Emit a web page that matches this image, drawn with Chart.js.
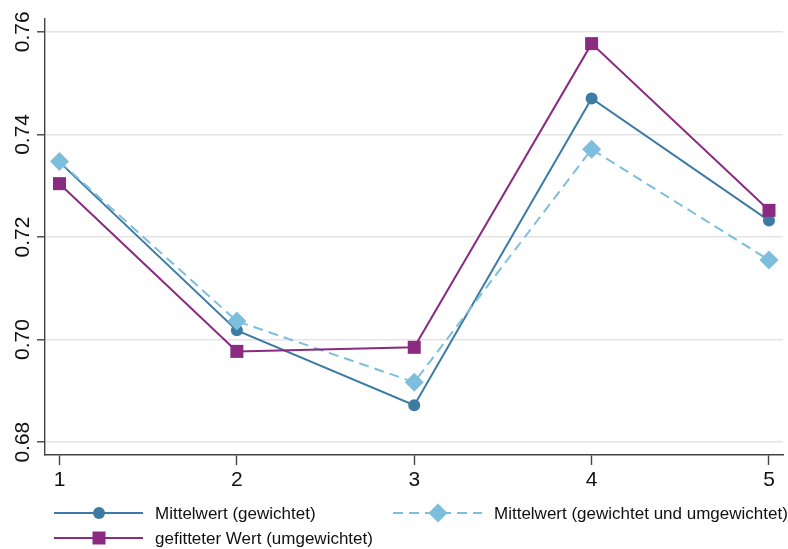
<!DOCTYPE html>
<html>
<head>
<meta charset="utf-8">
<script src="https://cdn.jsdelivr.net/npm/chart.js@4.4.1/dist/chart.umd.min.js"></script>
<style>
  html, body { margin: 0; padding: 0; background: #fff; }
</style>
</head>
<body>
<canvas id="chart" width="788" height="549"></canvas>
<script>
// values
const categories = [1, 2, 3, 4, 5];
const yTicks = [0.68, 0.70, 0.72, 0.74, 0.76];
const mittelwertGewichtet = [0.7346, 0.7018, 0.6872, 0.7470, 0.7232];
const mittelwertBeide = [0.7347, 0.7036, 0.6917, 0.7371, 0.7155];
const gefitteterWert = [0.7304, 0.6977, 0.6985, 0.7577, 0.7252];
const labels = [
  'Mittelwert (gewichtet)',
  'Mittelwert (gewichtet und umgewichtet)',
  'gefitteter Wert (umgewichtet)'
];

const DARK = 'rgb(61,123,164)';
const LIGHT = 'rgb(126,190,221)';
const PURPLE = 'rgb(138,42,128)';
const AXIS = '#444';
const FONT = '"Liberation Sans", Arial, sans-serif';

function toPoints(values) {
  return categories.map((c, i) => ({ x: c, y: values[i] }));
}

function drawMarker(ctx, style, x, y, color) {
  ctx.save();
  ctx.fillStyle = color;
  ctx.beginPath();
  if (style === 'circle') {
    ctx.arc(x, y, 6, 0, Math.PI * 2);
  } else if (style === 'rect') {
    ctx.rect(x - 6.5, y - 6.5, 13, 13);
  } else {
    ctx.moveTo(x, y - 9.5);
    ctx.lineTo(x + 9.5, y);
    ctx.lineTo(x, y + 9.5);
    ctx.lineTo(x - 9.5, y);
    ctx.closePath();
  }
  ctx.fill();
  ctx.restore();
}

// two-column legend below the plot, like the Stata one
const legendPlugin = {
  id: 'bottomLegend',
  afterDraw(chart) {
    const ctx = chart.ctx;
    const slots = [[54, 513], [393, 513], [54, 538]];
    chart.data.datasets.forEach((ds, i) => {
      const [x, y] = slots[i];
      ctx.save();
      ctx.strokeStyle = ds.borderColor;
      ctx.lineWidth = ds.borderWidth;
      ctx.setLineDash(ds.borderDash || []);
      ctx.beginPath();
      ctx.moveTo(x, y);
      ctx.lineTo(x + 89, y);
      ctx.stroke();
      ctx.restore();
      drawMarker(ctx, ds.pointStyle, x + 45, y, ds.pointBackgroundColor);
      ctx.save();
      ctx.fillStyle = '#111';
      ctx.font = '17px ' + FONT;
      ctx.textBaseline = 'middle';
      ctx.fillText(ds.label, x + 101, y + 1);
      ctx.restore();
    });
  }
};

new Chart(document.getElementById('chart'), {
  type: 'line',
  data: {
    datasets: [
      {
        label: labels[0],
        data: toPoints(mittelwertGewichtet),
        borderColor: DARK,
        borderWidth: 2,
        pointStyle: 'circle',
        pointRadius: 6,
        pointBackgroundColor: DARK,
        pointBorderWidth: 0,
        order: 3
      },
      {
        label: labels[1],
        data: toPoints(mittelwertBeide),
        borderColor: LIGHT,
        borderWidth: 2,
        borderDash: [10, 6],
        pointStyle: 'rectRot',
        pointRadius: 9.5,
        pointBackgroundColor: LIGHT,
        pointBorderWidth: 0,
        order: 2
      },
      {
        label: labels[2],
        data: toPoints(gefitteterWert),
        borderColor: PURPLE,
        borderWidth: 2,
        pointStyle: 'rect',
        pointRadius: 9.2,
        pointBackgroundColor: PURPLE,
        pointBorderWidth: 0,
        order: 1
      }
    ]
  },
  options: {
    responsive: false,
    animation: false,
    devicePixelRatio: 1,
    layout: { autoPadding: false, padding: { top: 19, right: 5, left: 0, bottom: 0 } },
    plugins: {
      legend: { display: false },
      tooltip: { enabled: false }
    },
    scales: {
      x: {
        type: 'linear',
        min: 0.9183,
        max: 5.079,
        afterBuildTicks: (scale) => { scale.ticks = categories.map(v => ({ value: v })); },
        afterFit: (scale) => {
          scale.height = 94;
          scale.paddingLeft = 0;
          scale.paddingRight = 0;
        },
        border: { display: true, color: AXIS, width: 1.4 },
        grid: { drawOnChartArea: false, drawTicks: true, tickLength: 10, tickColor: AXIS, tickWidth: 1.4 },
        ticks: {
          color: '#111',
          font: { family: FONT, size: 21 },
          padding: 3,
          maxRotation: 0,
          callback: (v) => String(v)
        }
      },
      y: {
        min: 0.6775,
        max: 0.7625,
        afterBuildTicks: (scale) => { scale.ticks = yTicks.map(v => ({ value: v })); },
        afterFit: (scale) => { scale.width = 45; },
        border: { display: true, color: AXIS, width: 1.4 },
        grid: { color: '#e4e4e4', lineWidth: 1.6, tickLength: 8, tickColor: AXIS, tickWidth: 1.4 },
        ticks: {
          color: '#111',
          font: { family: FONT, size: 21 },
          padding: -6.5,
          minRotation: 90,
          maxRotation: 90,
          crossAlign: 'center',
          callback: (v) => v.toFixed(2)
        }
      }
    }
  },
  plugins: [legendPlugin]
});
</script>
</body>
</html>
